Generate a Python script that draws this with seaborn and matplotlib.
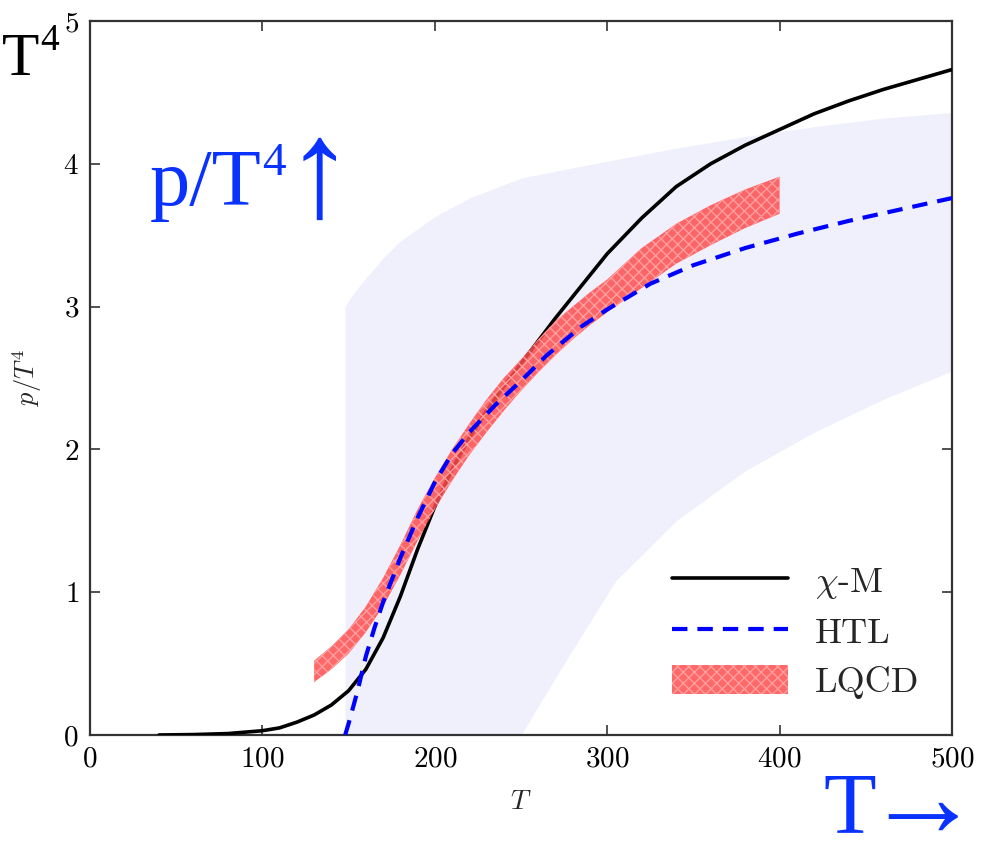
import numpy as np
import pandas as pd
import matplotlib
matplotlib.use("Agg")
import matplotlib.pyplot as plt
import seaborn as sns
from matplotlib.patches import Patch
from matplotlib.lines import Line2D

# chi-M model curve
T_chi = [40, 60, 80, 100, 110, 120, 130, 140, 150, 160, 170, 180, 190, 200, 210, 220,
         230, 240, 250, 260, 270, 280, 290, 300, 320, 340, 360, 380, 400, 420, 440,
         460, 480, 500]
p_chi = [0.0, 0.003, 0.01, 0.03, 0.05, 0.09, 0.14, 0.21, 0.31, 0.46, 0.68, 0.97, 1.3,
         1.6, 1.86, 2.08, 2.27, 2.44, 2.6, 2.76, 2.92, 3.07, 3.22, 3.37, 3.62, 3.84,
         4.0, 4.13, 4.24, 4.35, 4.44, 4.52, 4.59, 4.66]

# HTL curve
T_htl = [148, 150, 155, 160, 165, 170, 180, 190, 200, 210, 220, 235, 250, 265, 285,
         300, 325, 350, 380, 410, 440, 470, 500]
p_htl = [0.0, 0.08, 0.3, 0.55, 0.75, 0.93, 1.24, 1.52, 1.77, 1.97, 2.12, 2.31, 2.48,
         2.66, 2.86, 2.98, 3.16, 3.29, 3.41, 3.51, 3.60, 3.68, 3.76]

# HTL uncertainty band (light)
T_band = [148, 152, 160, 170, 180, 200, 220, 250, 275, 305, 340, 380, 420, 460, 500]
band_hi = [3.0, 3.08, 3.2, 3.34, 3.46, 3.63, 3.76, 3.9, 3.96, 4.03, 4.11, 4.19, 4.26,
           4.32, 4.36]
band_lo = [0, 0, 0, 0, 0, 0, 0, 0, 0.5, 1.08, 1.5, 1.85, 2.12, 2.35, 2.55]

# lattice QCD band
T_lqcd = [130, 140, 150, 160, 170, 180, 190, 200, 210, 220, 230, 240, 250, 260, 270,
          280, 290, 300, 320, 340, 360, 380, 400]
lqcd_hi = [0.52, 0.62, 0.74, 0.9, 1.1, 1.33, 1.58, 1.8, 2.0, 2.18, 2.35, 2.5, 2.63,
           2.77, 2.9, 3.0, 3.1, 3.19, 3.41, 3.58, 3.71, 3.82, 3.91]
lqcd_lo = [0.37, 0.46, 0.57, 0.72, 0.9, 1.12, 1.36, 1.58, 1.78, 1.96, 2.12, 2.27,
           2.41, 2.54, 2.66, 2.77, 2.87, 2.96, 3.13, 3.3, 3.43, 3.55, 3.65]

sns.set_style("ticks")
plt.rcParams["font.family"] = ["cmr10", "DejaVu Serif"]
plt.rcParams["mathtext.fontset"] = "cm"
plt.rcParams["axes.formatter.use_mathtext"] = True
plt.rcParams["hatch.linewidth"] = 1.0

W, H = 981, 848
fig = plt.figure(figsize=(W / 100, H / 100), dpi=100)
ax = fig.add_axes([90 / W, 113 / H, 862 / W, 714 / H])

ax.fill_between(T_band, band_lo, band_hi, color="#F0F0FC", linewidth=0, zorder=1)

chi = pd.DataFrame({"T": T_chi, "p": p_chi})
htl = pd.DataFrame({"T": T_htl, "p": p_htl})
sns.lineplot(data=chi, x="T", y="p", color="black", linewidth=2.6, ax=ax, zorder=3)
ax.fill_between(T_lqcd, lqcd_lo, lqcd_hi, facecolor=(1, 0.3, 0.3, 0.85),
                edgecolor=(1, 0.62, 0.62), hatch="xxx", linewidth=0, zorder=4)
sns.lineplot(data=htl, x="T", y="p", color="#0000FF", linewidth=3,
             linestyle=(0, (3.7, 2.4)), ax=ax, zorder=5)

ax.set_xlim(0, 500)
ax.set_ylim(0, 5)
ax.set_xticks([0, 100, 200, 300, 400, 500])
ax.set_yticks([0, 1, 2, 3, 4, 5])
ax.tick_params(direction="in", length=7, width=1.2, top=True, right=True,
               labelsize=21, pad=8, colors="#333333", labelcolor="black")
for s in ax.spines.values():
    s.set_linewidth(1.6)
    s.set_color("#333333")
ax.set_xlabel("$T$", fontsize=20, labelpad=12)
ax.set_ylabel("$p/T^4$", fontsize=19, labelpad=14)

handles = [
    Line2D([], [], color="black", linewidth=2.6),
    Line2D([], [], color="#0000FF", linewidth=3, linestyle=(0, (3.7, 2.4))),
    Patch(facecolor=(1, 0.3, 0.3, 0.85), edgecolor=(1, 0.62, 0.62), hatch="xxx",
          linewidth=0),
]
ax.legend(handles, [r"$\chi$-M", "HTL", "LQCD"], loc="lower right", frameon=False,
          fontsize=26, handlelength=3.2, handleheight=0.85, handletextpad=0.75,
          labelspacing=0.42, bbox_to_anchor=(1.0, 0.005))

serif = ["Liberation Serif", "DejaVu Serif"]
blue = "#0A32FF"
# black "T^4" at top left
fig.text(2 / W, 1 - 75 / H, "T", fontsize=44, family=serif, color="black",
         va="baseline", ha="left")
fig.text(40 / W, 1 - 50 / H, "4", fontsize=27, family=serif, color="black",
         va="baseline", ha="left")
# blue "p/T^4 up-arrow"
fig.text(150 / W, 1 - 205 / H, "p/T", fontsize=58, family=serif, color=blue,
         va="baseline", ha="left")
fig.text(262 / W, 1 - 175 / H, "4", fontsize=34, family=serif, color=blue,
         va="baseline", ha="left")
fig.text(285 / W, 1 - 216 / H, "\u2191", fontsize=100, family=serif, color=blue,
         va="baseline", ha="left")
# blue "T right-arrow" at bottom right
fig.text(823 / W, 1 - 832 / H, "T", fontsize=62, family=serif, color=blue,
         va="baseline", ha="left")
fig.text(864 / W, 1 - 836 / H, "\u2192", fontsize=84, family=serif, color=blue,
         va="baseline", ha="left")

fig.savefig("out.png", dpi=100)
